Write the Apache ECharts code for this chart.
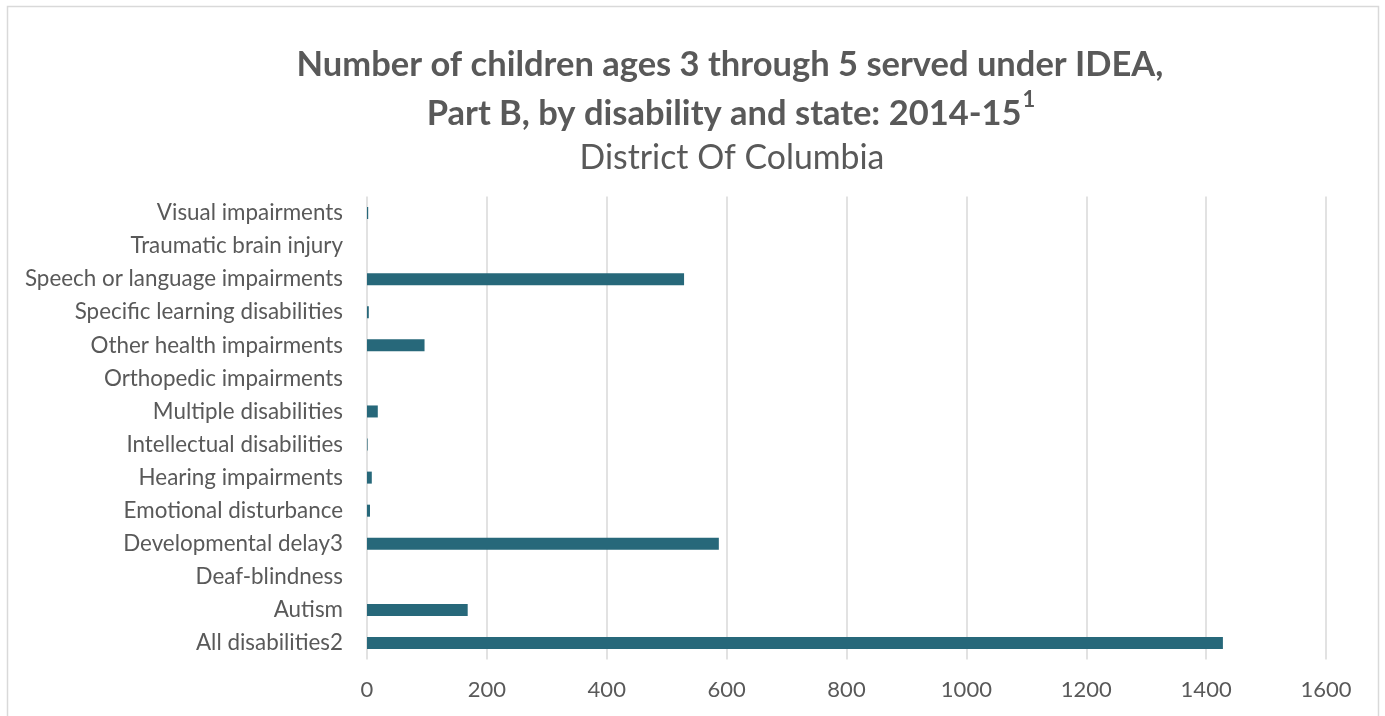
<!DOCTYPE html>
<html>
<head>
<meta charset="utf-8">
<script src="https://cdn.jsdelivr.net/npm/echarts@6/dist/echarts.min.js"></script>
<style>
html,body{margin:0;padding:0;background:#fff;}
#chart{width:1385px;height:716px;}
</style>
</head>
<body>
<div id="chart"></div>
<script>
// Data (bottom to top, as in the category axis)
const categories = [
  'All disabilities2',
  'Autism',
  'Deaf-blindness',
  'Developmental delay3',
  'Emotional disturbance',
  'Hearing impairments',
  'Intellectual disabilities',
  'Multiple disabilities',
  'Orthopedic impairments',
  'Other health impairments',
  'Specific learning disabilities',
  'Speech or language impairments',
  'Traumatic brain injury',
  'Visual impairments'
];
const values = [1428, 168, 0, 587, 5, 8, 1, 18, 0, 96, 3, 529, 0, 2];
const xTicks = [0, 200, 400, 600, 800, 1000, 1200, 1400, 1600];

const titleLine1 = 'Number of children ages 3 through 5 served under IDEA,';
const titleLine2 = 'Part B, by disability and state: 2014-15';
const titleSup = '1';
const subtitle = 'District Of Columbia';

const FONT = 'Lato, "Open Sans", sans-serif';
const chart = echarts.init(document.getElementById('chart'), null, {renderer: 'canvas'});
chart.setOption({
  backgroundColor: '#ffffff',
  animation: false,
  graphic: [
    {type: 'rect', shape: {x: 7.5, y: 6.5, width: 1371, height: 730},
     style: {fill: 'none', stroke: '#d9d9d9', lineWidth: 1.5}, silent: true},
    {type: 'text', x: 730, y: 65, silent: true,
     style: {text: titleLine1, font: 'bold 34.5px ' + FONT, fill: '#595959',
             textAlign: 'center', textVerticalAlign: 'middle'}},
    {type: 'text', x: 731, y: 110, silent: true,
     style: {
       text: '{b|' + titleLine2 + '}{s|' + titleSup + '}',
       textAlign: 'center', textVerticalAlign: 'middle',
       rich: {
         b: {fontFamily: FONT, fontWeight: 'bold', fontSize: 34.5, fill: '#595959', verticalAlign: 'bottom', lineHeight: 42},
         s: {fontFamily: FONT, fontWeight: 'bold', fontSize: 22, fill: '#595959', verticalAlign: 'top', lineHeight: 42, padding: [0, 0, 14, 1]}
       }
     }},
    {type: 'text', x: 732, y: 158, silent: true,
     style: {text: subtitle, font: '33.8px ' + FONT, fill: '#595959',
             textAlign: 'center', textVerticalAlign: 'middle'}}
  ],
  grid: {left: 367, right: 59, top: 196.5, bottom: 56.5, containLabel: false},
  xAxis: {
    type: 'value',
    min: 0, max: 1600, interval: 200,
    axisLine: {show: false},
    axisTick: {show: false},
    splitLine: {show: true, lineStyle: {color: '#d9d9d9', width: 1.5}},
    axisLabel: {
      color: '#595959', fontFamily: FONT, fontSize: 22, margin: 19,
      formatter: function (v) { return xTicks.indexOf(v) >= 0 ? String(v) : ''; }
    }
  },
  yAxis: {
    type: 'category',
    data: categories,
    axisLine: {show: false},
    axisTick: {show: false},
    axisLabel: {color: '#595959', fontFamily: FONT, fontSize: 22.4, margin: 24}
  },
  series: [{
    type: 'bar',
    data: values,
    barWidth: 12,
    itemStyle: {color: '#27687A'},
    silent: true
  }]
});
</script>
</body>
</html>
